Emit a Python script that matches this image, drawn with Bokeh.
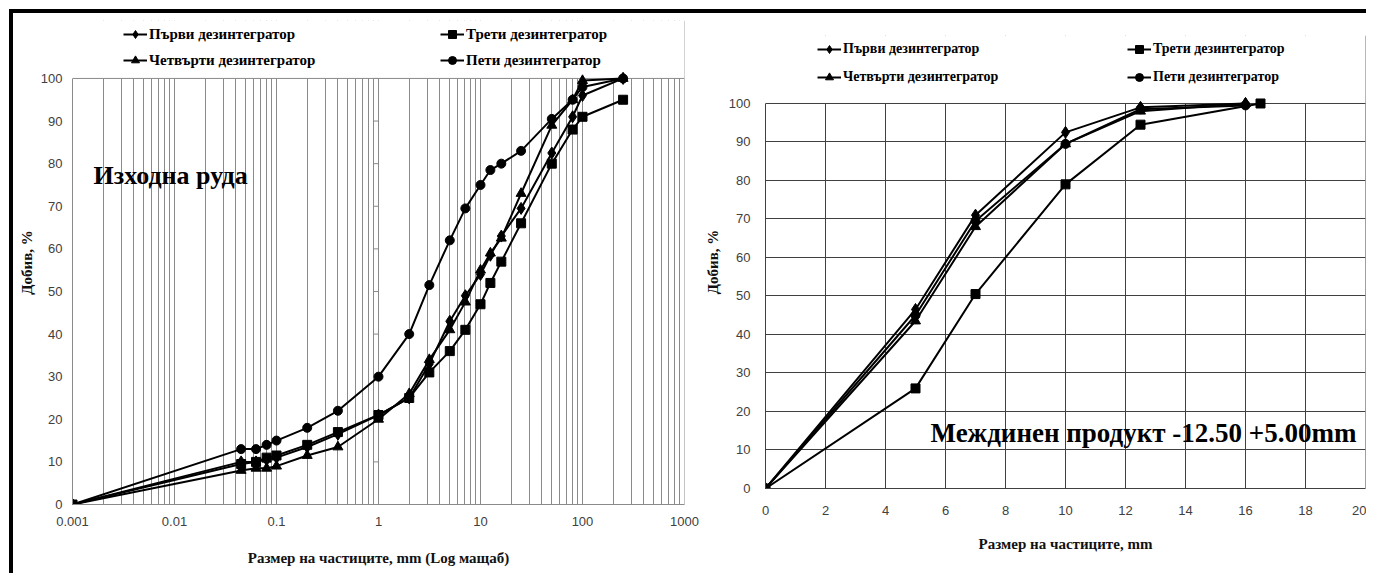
from bokeh.plotting import figure
from bokeh.models import FixedTicker, Legend, LegendItem, Label, Spacer, BoxAnnotation, Span
from bokeh.layouts import row, column
from bokeh.embed import file_html
from bokeh.resources import INLINE

SERIF = "'Liberation Serif', 'DejaVu Serif', serif"
SANS = "'Liberation Sans', 'DejaVu Sans', sans-serif"

# ---------------- data ----------------
series_names = ["Първи дезинтегратор", "Трети дезинтегратор",
                "Четвърти дезинтегратор", "Пети дезинтегратор"]
series_markers = ["diamond", "square", "triangle", "circle"]
marker_sizes = [12, 9, 10, 9]

# Left chart: raw ore, particle size (mm, log scale)
left_sizes = [0.001, 0.045, 0.063, 0.08, 0.1, 0.2, 0.4, 1, 2, 3.15, 5, 7.1,
              10, 12.5, 16, 25, 50, 80, 100, 250]
left_first = [0, 10, 10, 10.5, 11, 13.5, 16.5, 21, 25, 33, 43, 49,
              54, 58.5, 63, 69.5, 82.5, 91, 96, 100]
left_third = [0, 9.5, 10, 11, 11.5, 14, 17, 21, 25, 31, 36, 41,
              47, 52, 57, 66, 80, 88, 91, 95]
left_fourth = [0, 8, 8.5, 8.5, 9, 11.5, 13.5, 20, 26, 34, 41, 47.5,
               55, 59, 62.5, 73, 89, 95, 99.5, 100]
left_fifth = [0, 13, 13, 14, 15, 18, 22, 30, 40, 51.5, 62, 69.5,
              75, 78.5, 80, 83, 90.5, 95, 98, 100]
left_series = [left_first, left_third, left_fourth, left_fifth]

left_major = [0.001, 0.01, 0.1, 1, 10, 100, 1000]
left_major_labels = ["0.001", "0.01", "0.1", "1", "10", "100", "1000"]
y_ticks = [0, 10, 20, 30, 40, 50, 60, 70, 80, 90, 100]

# Right chart: intermediate product -12.50 +5.00 mm
right_x = [[0, 5, 7, 10, 12.5, 16],
           [0, 5, 7, 10, 12.5, 16.5],
           [0, 5, 7, 10, 12.5, 16],
           [0, 5, 7, 10, 12.5, 16]]
right_y = [[0, 46.5, 71, 92.5, 99, 100],
           [0, 26, 50.5, 79, 94.5, 100],
           [0, 43.5, 68, 89.5, 98, 100],
           [0, 45, 69.5, 89.5, 98.5, 99.5]]
right_x_ticks = [0, 2, 4, 6, 8, 10, 12, 14, 16, 18, 20]

# ---------------- helpers ----------------
def style_axes(p, grid_color):
    for ax in (p.xaxis[0], p.yaxis[0]):
        ax.major_label_text_font = SANS
        ax.major_label_text_font_size = "13px"
        ax.major_label_text_color = "#404040"
        ax.axis_label_text_font = SERIF
        ax.axis_label_text_font_style = "bold"
        ax.axis_label_text_font_size = "15px"
        ax.axis_label_text_color = "#111111"
        ax.major_tick_out = 0
        ax.major_tick_in = 0
        ax.minor_tick_out = 0
        ax.minor_tick_in = 0
        ax.axis_line_color = grid_color
    p.yaxis[0].bounds = (0, 100)
    p.background_fill_color = "white"
    p.border_fill_color = "white"
    p.outline_line_color = None


def frame_box(p, x_end, grid_color):
    # right edge of the plot area, then hide everything above 100 %, then the top edge
    p.add_layout(Span(location=x_end, dimension="height", line_color=grid_color,
                      line_width=1, level="underlay"))
    p.add_layout(BoxAnnotation(bottom=100, fill_color="white", fill_alpha=1.0,
                               line_color=None, level="underlay"))
    p.add_layout(Span(location=100, dimension="width", line_color=grid_color,
                      line_width=1, level="underlay"))


def add_series(p, xs_list, ys_list, lw):
    items = []
    for name, mk, ms, xs, ys in zip(series_names, series_markers, marker_sizes, xs_list, ys_list):
        lr = p.line(xs, ys, line_width=lw, line_color="black")
        sr = p.scatter(xs, ys, marker=mk, size=ms, fill_color="black", line_color="black")
        items.append(LegendItem(label=name, renderers=[lr, sr]))
    return items


def make_legend(items, x, y, font_size, label_width, spacing):
    return Legend(items=items, location=(x, y), orientation="horizontal", ncols=2,
                  padding=0, margin=0, spacing=spacing, border_line_color=None,
                  background_fill_alpha=0, glyph_width=24, glyph_height=20,
                  label_height=20, label_standoff=2, label_width=label_width,
                  label_text_font=SERIF, label_text_font_style="bold",
                  label_text_font_size=font_size, label_text_color="black")

# ---------------- left chart ----------------
grid1 = "#8a8a8a"
p1 = figure(width=687, height=560, x_axis_type="log", x_range=(0.001, 1000),
            y_range=(0, 113.6), output_backend="svg", toolbar_location=None,
            min_border_left=59, min_border_right=16, min_border_top=7, min_border_bottom=69)
style_axes(p1, grid1)
minor_log = [m * d for d in left_major[:-1] for m in range(2, 10)]
p1.xaxis[0].ticker = FixedTicker(ticks=left_major, minor_ticks=minor_log)
p1.xaxis[0].major_label_overrides = {t: s for t, s in zip(left_major, left_major_labels)}
p1.xaxis[0].major_label_standoff = 12
p1.xaxis[0].axis_label = "Размер на частиците, mm (Log мащаб)"
p1.xaxis[0].axis_label_standoff = 21
p1.yaxis[0].ticker = FixedTicker(ticks=y_ticks)
p1.yaxis[0].major_label_standoff = 10
p1.yaxis[0].axis_label = "Добив, %"
p1.yaxis[0].axis_label_standoff = 3
p1.xgrid.grid_line_color = grid1
p1.xgrid.minor_grid_line_color = grid1
p1.ygrid.grid_line_color = None
frame_box(p1, left_major[-1], grid1)

# small tick marks on the vertical axis crossing at 1 mm
p1.segment(x0=[10 ** -0.05] * len(y_ticks), y0=y_ticks, x1=[1] * len(y_ticks), y1=y_ticks,
           line_color=grid1, line_width=1)

items1 = add_series(p1, [left_sizes] * 4, left_series, 2)
p1.add_layout(make_legend(items1, 51, 434, "15px", 285, 6))

p1.add_layout(Label(x=21, y=329, x_units="screen", y_units="screen", text="Изходна руда",
                    text_font=SERIF, text_font_style="bold", text_font_size="26px",
                    text_color="black", text_baseline="middle"))

# ---------------- right chart ----------------
grid2 = "#404040"
p2 = figure(width=666, height=559, x_range=(0, 20), y_range=(0, 117.66),
            output_backend="svg", toolbar_location=None,
            min_border_left=65, min_border_right=1, min_border_top=21, min_border_bottom=85)
style_axes(p2, grid2)
p2.xaxis[0].ticker = FixedTicker(ticks=right_x_ticks)
p2.xaxis[0].major_label_standoff = 17
p2.xaxis[0].axis_label = "Размер на частиците, mm"
p2.xaxis[0].axis_label_standoff = 18
p2.yaxis[0].ticker = FixedTicker(ticks=y_ticks)
p2.yaxis[0].major_label_standoff = 15
p2.yaxis[0].axis_label = "Добив, %"
p2.yaxis[0].axis_label_standoff = 5
p2.xgrid.grid_line_color = grid2
p2.ygrid.grid_line_color = grid2
frame_box(p2, right_x_ticks[-1], grid2)

items2 = add_series(p2, right_x, right_y, 2)
p2.add_layout(make_legend(items2, 52, 401, "14px", 276, 8))

p2.add_layout(Label(x=165, y=56, x_units="screen", y_units="screen",
                    text="Междинен продукт -12.50 +5.00mm",
                    text_font=SERIF, text_font_style="bold", text_font_size="27px",
                    text_color="black", text_baseline="middle"))

layout = row(p1, column(Spacer(width=666, height=1), p2),
             styles={"border-top": "4px solid black", "border-left": "4px solid black",
                     "margin-top": "9px", "margin-left": "9px"})

open("out.html", "w").write(file_html(layout, INLINE))
